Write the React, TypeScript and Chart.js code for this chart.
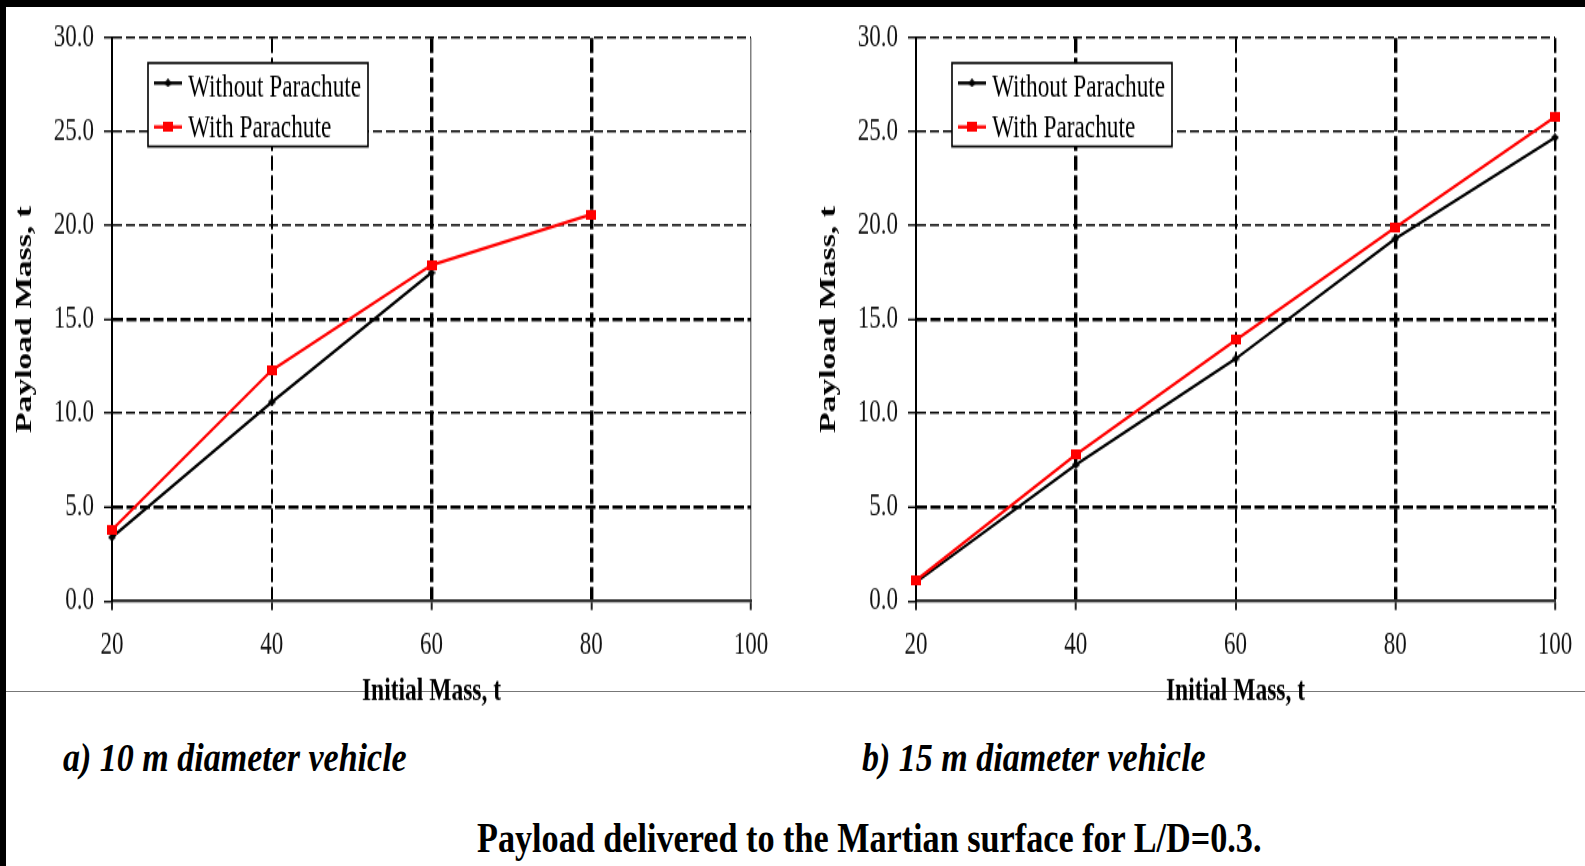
import { useEffect, useRef } from "react";
import { Chart, registerables } from "chart.js";

Chart.register(...registerables);

// ---------- data ----------
const xTicks = [20, 40, 60, 80, 100];
const yTicks = [0, 5, 10, 15, 20, 25, 30];

// a) 10 m diameter vehicle
const massWithoutA = [20, 40, 60];
const payloadWithoutA = [3.4, 10.6, 17.5];
const massWithA = [20, 40, 60, 80];
const payloadWithA = [3.8, 12.3, 17.9, 20.6];

// b) 15 m diameter vehicle
const massB = [20, 40, 60, 80, 100];
const payloadWithoutB = [1.0, 7.25, 12.9, 19.3, 24.7];
const payloadWithB = [1.1, 7.8, 13.9, 19.9, 25.8];

const seriesLabels = ["Without Parachute", "With Parachute"];
const seriesColors = ["#000000", "#ff0000"];
const captions = ["a) 10 m diameter vehicle", "b) 15 m diameter vehicle"];
const figureTitle = "Payload delivered to the Martian surface for L/D=0.3.";
const xAxisTitle = "Initial Mass, t";
const yAxisTitle = "Payload Mass, t";

// ---------- layout constants ----------
const K = 1.4; // vertical stretch of the chart pictures
const CH = 508; // unscaled canvas height
const AREA_TOP = 38 / K;
const AREA_BOTTOM = 601 / K;
const AXIS_W = 112;
const PLOT_RIGHT = 751;
const SERIF = '"Liberation Serif", "Times New Roman", serif';

function makeSquare(color: string, w: number, h: number) {
  const c = document.createElement("canvas");
  c.width = w;
  c.height = h;
  const g = c.getContext("2d")!;
  g.fillStyle = color;
  g.fillRect(0, 0, w, h);
  return c;
}

function makeDiamond(color: string, w: number, h: number) {
  const c = document.createElement("canvas");
  c.width = w;
  c.height = h;
  const g = c.getContext("2d")!;
  g.fillStyle = color;
  g.beginPath();
  g.moveTo(w / 2, 0);
  g.lineTo(w, h / 2);
  g.lineTo(w / 2, h);
  g.lineTo(0, h / 2);
  g.closePath();
  g.fill();
  return c;
}

const boxLegend = {
  id: "boxLegend",
  afterDraw(chart: any) {
    const { ctx, chartArea } = chart;
    const x0 = chartArea.left + 36;
    const y0 = 45;
    const w = 220;
    const h = 59.6;
    ctx.save();
    ctx.fillStyle = "#ffffff";
    ctx.fillRect(x0, y0, w, h);
    ctx.strokeStyle = "#000000";
    ctx.lineWidth = 1.6;
    ctx.strokeRect(x0, y0, w, h);
    const items = [...chart.data.datasets].sort(
      (a: any, b: any) => (a.legendIndex ?? 0) - (b.legendIndex ?? 0)
    );
    items.forEach((ds: any, i: number) => {
      const ly = y0 + 14.3 + i * 31.4;
      ctx.strokeStyle = ds.borderColor;
      ctx.lineWidth = 2.4;
      ctx.beginPath();
      ctx.moveTo(x0 + 6, ly);
      ctx.lineTo(x0 + 34, ly);
      ctx.stroke();
      const img = ds.pointStyle as HTMLCanvasElement;
      ctx.drawImage(img, x0 + 20 - img.width / 2, ly - img.height / 2);
      ctx.fillStyle = "#000000";
      ctx.font = `23.3px ${SERIF}`;
      ctx.textBaseline = "alphabetic";
      ctx.textAlign = "left";
      ctx.fillText(ds.label, x0 + 40, y0 + 24.3 + i * 28.6);
    });
    ctx.restore();
  },
};

function makeConfig(datasets: any[], panel: "a" | "b", canvasWidth: number): any {
  const thickX = panel === "a" ? [60, 80] : [40, 80];
  return {
    type: "line",
    data: { datasets },
    plugins: [boxLegend],
    options: {
      animation: false,
      responsive: false,
      events: [],
      layout: {
        padding: { left: 0, top: AREA_TOP, right: canvasWidth - PLOT_RIGHT, bottom: 0 },
      },
      plugins: { legend: { display: false }, tooltip: { enabled: false } },
      scales: {
        x: {
          type: "linear",
          min: xTicks[0],
          max: xTicks[xTicks.length - 1],
          afterBuildTicks: (s: any) => {
            s.ticks = xTicks.map((v) => ({ value: v }));
          },
          afterFit: (s: any) => {
            s.height = CH - AREA_BOTTOM;
          },
          ticks: {
            autoSkip: false,
            maxRotation: 0,
            padding: 11,
            color: "#111111",
            font: { family: SERIF, size: 23 },
            callback: (v: any) => String(v),
          },
          grid: {
            color: (c: any) => {
              const v = c.tick?.value;
              if (v === xTicks[0]) return "rgba(0,0,0,0)";
              if (panel === "a" && v === 100) return "#808080";
              return "#000000";
            },
            lineWidth: (c: any) => {
              const v = c.tick?.value;
              if (panel === "a" && v === 100) return 1.5;
              if (thickX.includes(v)) return 3.4;
              return panel === "b" && v === 100 ? 2.4 : 2;
            },
            tickLength: 6.4,
            tickWidth: 2,
            tickColor: "#222222",
            tickBorderDash: [],
          },
          border: {
            display: true,
            color: "#333333",
            width: 2.2,
            dash: (c: any) => {
              const v = c.tick?.value;
              if (v === undefined) return [];
              if (panel === "a" && v === 100) return [];
              return [10.5, 3.5];
            },
          },
          title: {
            display: true,
            text: xAxisTitle,
            color: "#000000",
            font: { family: SERIF, size: 23.5, weight: "bold" },
            padding: { top: 0, bottom: 0 },
          },
        },
        y: {
          type: "linear",
          min: yTicks[0],
          max: yTicks[yTicks.length - 1],
          afterBuildTicks: (s: any) => {
            s.ticks = yTicks.map((v) => ({ value: v }));
          },
          afterFit: (s: any) => {
            s.width = AXIS_W;
          },
          ticks: {
            autoSkip: false,
            padding: 10,
            color: "#111111",
            font: { family: SERIF, size: 23 },
            callback: (v: any) => Number(v).toFixed(1),
          },
          grid: {
            color: (c: any) => (c.tick?.value === yTicks[0] ? "rgba(0,0,0,0)" : "#000000"),
            lineWidth: (c: any) => {
              const v = c.tick?.value;
              return v === 5 || v === 15 ? 2.6 : 1.5;
            },
            tickLength: 8,
            tickWidth: 1.4,
            tickColor: "#000000",
            tickBorderDash: [],
          },
          border: {
            display: true,
            color: "#000000",
            width: 2,
            dash: (c: any) => {
              const v = c.tick?.value;
              if (v === undefined) return [];
              return v === 5 || v === 15 ? [10, 3.5] : [9, 4];
            },
          },
          title: {
            display: true,
            text: yAxisTitle,
            color: "#000000",
            font: { family: SERIF, size: 24, weight: "bold" },
            padding: { top: 10.6, bottom: 0 },
          },
        },
      },
    },
  };
}

function series(label: string, xs: number[], ys: number[], color: string, img: HTMLCanvasElement, order: number, legendIndex: number) {
  return {
    label,
    legendIndex,
    data: xs.map((x, i) => ({ x, y: ys[i] })),
    borderColor: color,
    backgroundColor: color,
    borderWidth: 2.2,
    tension: 0,
    pointStyle: img,
    pointRadius: 5,
    clip: false,
    order,
  };
}

const W_A = 800;
const LEFT_B = 804;
const W_B = 1585 - LEFT_B;

export default function App() {
  const refA = useRef<HTMLCanvasElement>(null);
  const refB = useRef<HTMLCanvasElement>(null);

  useEffect(() => {
    const blackMark = makeDiamond(seriesColors[0], 8, 6);
    const redMark = makeSquare(seriesColors[1], 10, 7);
    const dsA = [
      series(seriesLabels[0], massWithoutA, payloadWithoutA, seriesColors[0], blackMark, 1, 0),
      series(seriesLabels[1], massWithA, payloadWithA, seriesColors[1], redMark, 0, 1),
    ];
    const dsB = [
      series(seriesLabels[0], massB, payloadWithoutB, seriesColors[0], blackMark, 1, 0),
      series(seriesLabels[1], massB, payloadWithB, seriesColors[1], redMark, 0, 1),
    ];
    const charts = [
      new Chart(refA.current!, makeConfig(dsA, "a", W_A)),
      new Chart(refB.current!, makeConfig(dsB, "b", W_B)),
    ];
    return () => charts.forEach((c) => c.destroy());
  }, []);

  const stretch = (left: number, width: number): any => ({
    position: "absolute",
    left,
    top: 0,
    width,
    height: CH,
    transform: `scaleY(${K})`,
    transformOrigin: "0 0",
  });

  return (
    <div
      style={{
        position: "fixed",
        left: 0,
        top: 0,
        width: 1585,
        height: 866,
        background: "#ffffff",
        overflow: "hidden",
      }}
    >
      <div style={{ position: "absolute", left: 0, top: 0, width: 1585, height: 7, background: "#000" }} />
      <div style={{ position: "absolute", left: 0, top: 0, width: 6, height: 866, background: "#000" }} />
      <div style={{ position: "absolute", left: 6, top: 690.5, width: 1579, height: 1, background: "#777" }} />
      <div style={stretch(0, W_A)}>
        <canvas ref={refA} width={W_A} height={CH} style={{ width: W_A, height: CH, display: "block" }} />
      </div>
      <div style={stretch(LEFT_B, W_B)}>
        <canvas ref={refB} width={W_B} height={CH} style={{ width: W_B, height: CH, display: "block" }} />
      </div>
      {[63, 862].map((left, i) => (
        <div
          key={i}
          style={{
            position: "absolute",
            left,
            top: 742.5,
            fontFamily: SERIF,
            fontStyle: "italic",
            fontWeight: "bold",
            fontSize: 34,
            lineHeight: "34px",
            whiteSpace: "nowrap",
            color: "#000",
            transform: "scaleY(1.15)",
            transformOrigin: "0 28.5px",
          }}
        >
          {captions[i]}
        </div>
      ))}
      <div
        style={{
          position: "absolute",
          left: 477,
          top: 824.3,
          fontFamily: SERIF,
          fontWeight: "bold",
          fontSize: 34.2,
          lineHeight: "34.2px",
          whiteSpace: "nowrap",
          color: "#000",
          transform: "scaleY(1.25)",
          transformOrigin: "0 28.7px",
        }}
      >
        {figureTitle}
      </div>
    </div>
  );
}
